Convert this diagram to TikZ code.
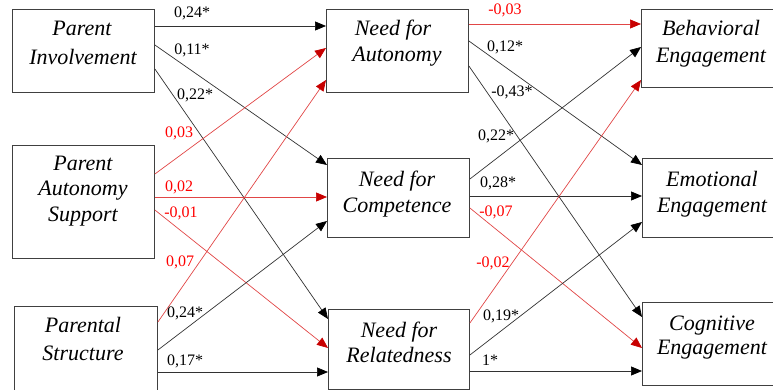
\documentclass[tikz,border=0pt]{standalone}
\usepackage{fontspec}
\setmainfont{Liberation Serif}[Ligatures=TeX]
\newfontfamily\tnr{Liberation Serif}
\usetikzlibrary{arrows.meta,calc}
\definecolor{boxline}{RGB}{64,64,64}
\definecolor{blkline}{RGB}{50,50,50}
\definecolor{redline}{RGB}{225,70,70}
\definecolor{redtip}{RGB}{200,0,0}
\definecolor{redtext}{RGB}{255,0,0}
\begin{document}
\begin{tikzpicture}[x=1pt,y=-1pt,
  box/.style={draw=boxline,line width=0.9pt,anchor=north west,inner sep=0pt,fill=white},
  boxtxt/.style={font=\tnr\fontsize{22}{26}\selectfont\itshape,anchor=base,inner sep=0pt},
  lab/.style={font=\tnr\fontsize{16}{19}\selectfont,anchor=base,inner sep=0pt},
  rlab/.style={lab,text=redtext},
  posarr/.style={draw=blkline,line width=0.7pt,-{Triangle[length=11pt,width=9pt,color=black]}},
  negarr/.style={draw=redline,line width=0.7pt,-{Triangle[length=11pt,width=9pt,color=redtip]}}]
\useasboundingbox (0,0) rectangle (773,390);
% boxes
\node[box,minimum width=142pt,minimum height=83pt] (pi) at (12,9) {};
\node[box,minimum width=142pt,minimum height=113pt] (pas) at (12,145) {};
\node[box,minimum width=143pt,minimum height=94pt] (ps) at (14,306) {};
\node[box,minimum width=142pt,minimum height=83pt] (na) at (326,9) {};
\node[box,minimum width=142pt,minimum height=79pt] (nc) at (327,158) {};
\node[box,minimum width=141pt,minimum height=80pt] (nr) at (328,309) {};
\node[box,minimum width=144pt,minimum height=78pt] (be) at (641,9) {};
\node[box,minimum width=144pt,minimum height=79pt] (ee) at (642,158) {};
\node[box,minimum width=144pt,minimum height=83pt] (ce) at (642,302) {};
% box texts
\node[boxtxt] (pi1) at (82,36) {Parent};
\node[boxtxt] (pi2) at (83,65) {Involvement};
\node[boxtxt] (pas1) at (83,171) {Parent};
\node[boxtxt] (pas2) at (83,196) {Autonomy};
\node[boxtxt] (pas3) at (83,221) {Support};
\node[boxtxt] (ps1) at (83,332) {Parental};
\node[boxtxt] (ps2) at (83,360) {Structure};
\node[boxtxt] (na1) at (393,36) {Need for};
\node[boxtxt] (na2) at (397,62) {Autonomy};
\node[boxtxt] (nc1) at (397,186) {Need for};
\node[boxtxt] (nc2) at (397,212) {Competence};
\node[boxtxt] (nr1) at (399,337) {Need for};
\node[boxtxt] (nr2) at (399,362) {Relatedness};
\node[boxtxt] (be1) at (711,36) {Behavioral};
\node[boxtxt] (be2) at (711,63) {Engagement};
\node[boxtxt] (ee1) at (712,186) {Emotional};
\node[boxtxt] (ee2) at (712,212) {Engagement};
\node[boxtxt] (ce1) at (712,330) {Cognitive};
\node[boxtxt] (ce2) at (712,354) {Engagement};
% left to middle
\draw[posarr] ([yshift=-17pt]pi.north east) -- ([yshift=-17pt]na.north west);
\draw[posarr] ([yshift=-36pt]pi.north east) -- ([yshift=-7pt]nc.north west);
\draw[posarr] ([yshift=-60pt]pi.north east) -- ([yshift=-10pt]nr.north west);
\draw[negarr] ([yshift=-29pt]pas.north east) -- ([yshift=-39pt]na.north west);
\draw[negarr] ([yshift=-52pt]pas.north east) -- ([yshift=-39pt]nc.north west);
\draw[negarr] ([yshift=-65pt]pas.north east) -- ([yshift=-39pt]nr.north west);
\draw[negarr] ([yshift=-16pt]ps.north east) -- ([yshift=-71pt]na.north west);
\draw[posarr] ([yshift=-44pt]ps.north east) -- ([yshift=-63pt]nc.north west);
\draw[posarr] ([yshift=-66pt]ps.north east) -- ([yshift=-63pt]nr.north west);
% middle to right
\draw[negarr] ([yshift=-15pt]na.north east) -- ([yshift=-15pt]be.north west);
\draw[posarr] ([yshift=-32pt]na.north east) -- ([yshift=-7pt]ee.north west);
\draw[posarr] ([yshift=-57pt]na.north east) -- ([yshift=-15pt]ce.north west);
\draw[posarr] ([yshift=-21pt]nc.north east) -- ([yshift=-38pt]be.north west);
\draw[posarr] ([yshift=-38pt]nc.north east) -- ([yshift=-38pt]ee.north west);
\draw[negarr] ([yshift=-50pt]nc.north east) -- ([yshift=-46pt]ce.north west);
\draw[negarr] ([yshift=-14pt]nr.north east) -- ([yshift=-71pt]be.north west);
\draw[posarr] ([yshift=-46pt]nr.north east) -- ([yshift=-64pt]ee.north west);
\draw[posarr] ([yshift=-62pt]nr.north east) -- ([yshift=-69pt]ce.north west);
% labels
\node[lab] (l1) at (192,18) {0,24*};
\node[lab] (l2) at (192,55) {0,11*};
\node[lab] (l3) at (195,100) {0,22*};
\node[rlab] (l4) at (179,138) {0,03};
\node[rlab] (l5) at (179,192) {0,02};
\node[rlab] (l6) at (181,217) {-0,01};
\node[rlab] (l7) at (180,266) {0,07};
\node[lab] (l8) at (185,317) {0,24*};
\node[lab] (l9) at (185,365) {0,17*};
\node[rlab] (l10) at (505,15) {-0,03};
\node[lab] (l11) at (505,52) {0,12*};
\node[lab] (l12) at (512,97) {-0,43*};
\node[lab] (l13) at (496,141) {0,22*};
\node[lab] (l14) at (498,188) {0,28*};
\node[rlab] (l15) at (496,216) {-0,07};
\node[rlab] (l16) at (493,267) {-0,02};
\node[lab] (l17) at (501,320) {0,19*};
\node[lab] (l18) at (490,365) {1*};
\end{tikzpicture}
\end{document}
